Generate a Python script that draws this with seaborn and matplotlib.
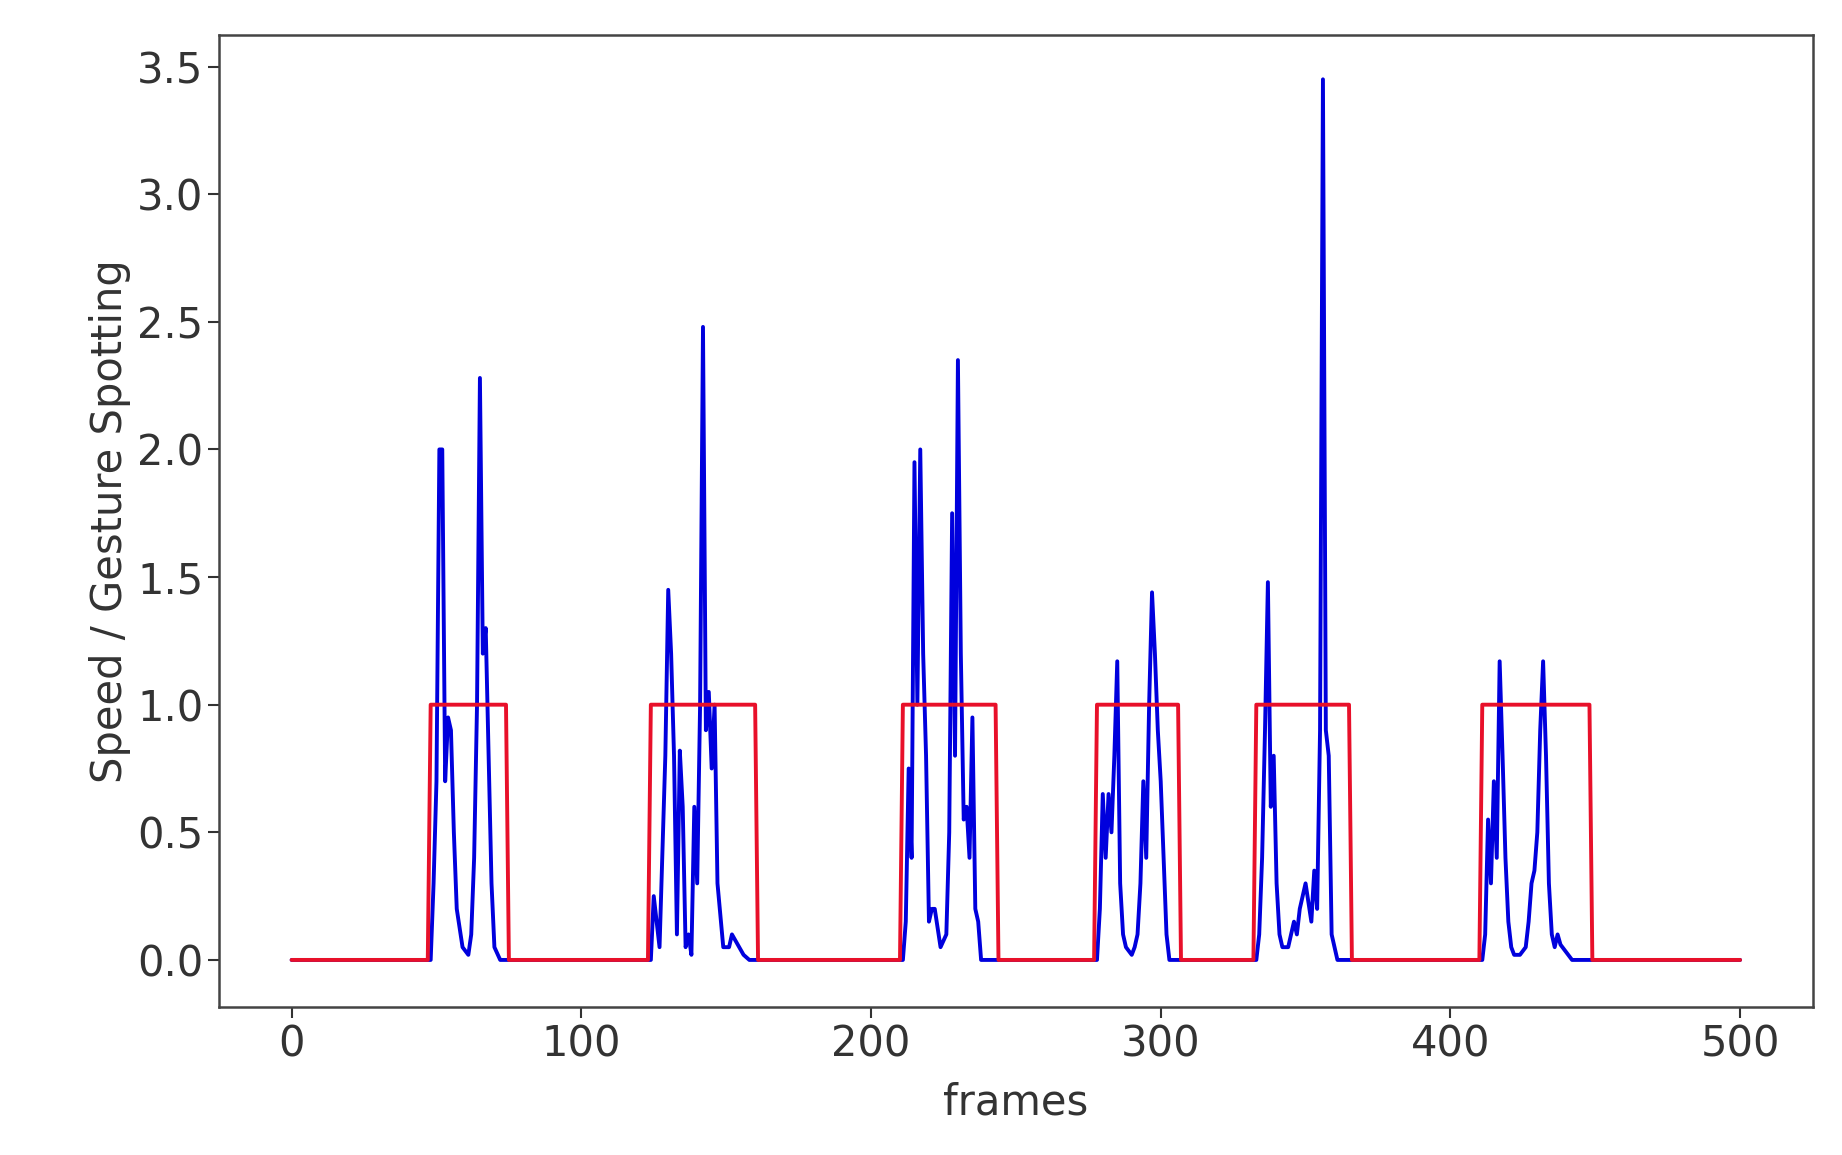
import matplotlib
matplotlib.use("Agg")
import matplotlib.pyplot as plt
import seaborn as sns
import pandas as pd

# Gesture spotting (square wave): frame, value
spot_frames = [0, 47, 48, 74, 75, 123, 124, 160, 161, 210, 211, 243, 244, 277, 278, 306,
               307, 332, 333, 365, 366, 410, 411, 448, 449, 500]
spot_values = [0, 0, 1, 1, 0, 0, 1, 1, 0, 0, 1, 1, 0, 0, 1, 1,
               0, 0, 1, 1, 0, 0, 1, 1, 0, 0]

# Speed: frame, value (key points)
speed_frames = [0, 48, 49, 50, 51, 52, 53, 54, 55, 56, 57, 59, 61, 62, 63, 64, 65, 66, 67, 68, 69, 70, 72,
                124, 125, 127, 129, 130, 131, 132, 133, 134, 135, 136, 137, 138, 139, 140, 141, 142, 143, 144,
                145, 146, 147, 149, 151, 152, 154, 156, 158,
                211, 212, 213, 214, 215, 216, 217, 218, 219, 220, 221, 222, 224, 226, 227, 228, 229, 230, 231,
                232, 233, 234, 235, 236, 237, 238,
                278, 279, 280, 281, 282, 283, 284, 285, 286, 287, 288, 290, 291, 292, 293, 294, 295, 296, 297,
                298, 299, 300, 301, 302, 303,
                333, 334, 335, 336, 337, 338, 339, 340, 341, 342, 344, 346, 347, 348, 350, 352, 353, 354, 355,
                356, 357, 358, 359, 360, 361,
                411, 412, 413, 414, 415, 416, 417, 418, 419, 420, 421, 422, 424, 426, 427, 428, 429, 430, 431,
                432, 433, 434, 435, 436, 437, 438, 440, 442, 444, 500]
speed_values = [0, 0, 0.3, 0.7, 2.0, 2.0, 0.7, 0.95, 0.9, 0.5, 0.2, 0.05, 0.02, 0.1, 0.4, 1.0, 2.28, 1.2, 1.3, 0.8, 0.3, 0.05, 0,
                0, 0.25, 0.05, 0.8, 1.45, 1.2, 0.8, 0.1, 0.82, 0.6, 0.05, 0.1, 0.02, 0.6, 0.3, 1.0, 2.48, 0.9, 1.05,
                0.75, 1.0, 0.3, 0.05, 0.05, 0.1, 0.06, 0.02, 0,
                0, 0.15, 0.75, 0.4, 1.95, 1.0, 2.0, 1.2, 0.8, 0.15, 0.2, 0.2, 0.05, 0.1, 0.5, 1.75, 0.8, 2.35, 1.2,
                0.55, 0.6, 0.4, 0.95, 0.2, 0.15, 0,
                0, 0.2, 0.65, 0.4, 0.65, 0.5, 0.8, 1.17, 0.3, 0.1, 0.05, 0.02, 0.05, 0.1, 0.3, 0.7, 0.4, 1.0, 1.44,
                1.2, 0.9, 0.7, 0.4, 0.1, 0,
                0, 0.1, 0.4, 0.9, 1.48, 0.6, 0.8, 0.3, 0.1, 0.05, 0.05, 0.15, 0.1, 0.2, 0.3, 0.15, 0.35, 0.2, 0.9,
                3.45, 0.9, 0.8, 0.1, 0.05, 0,
                0, 0.1, 0.55, 0.3, 0.7, 0.4, 1.17, 0.8, 0.4, 0.15, 0.05, 0.02, 0.02, 0.05, 0.15, 0.3, 0.35, 0.5, 0.9,
                1.17, 0.8, 0.3, 0.1, 0.05, 0.1, 0.06, 0.03, 0, 0, 0]

speed_df = pd.DataFrame({"frames": speed_frames, "value": speed_values})
spot_df = pd.DataFrame({"frames": spot_frames, "value": spot_values})

sns.set_theme(style="white")
plt.rcParams["font.family"] = ["DejaVu Sans"]

fig = plt.figure(figsize=(18.42, 11.55), dpi=100)
ax = fig.add_axes([0.119, 0.128, 0.865, 0.842])

sns.lineplot(data=speed_df, x="frames", y="value", ax=ax, color="#0000dd", linewidth=2.8, estimator=None, sort=False)
sns.lineplot(data=spot_df, x="frames", y="value", ax=ax, color="#e8102a", linewidth=2.8, estimator=None, sort=False)

ax.set_xlim(-25, 525)
ax.set_ylim(-0.185, 3.625)
ax.set_xticks([0, 100, 200, 300, 400, 500])
ax.set_yticks([0.0, 0.5, 1.0, 1.5, 2.0, 2.5, 3.0, 3.5])
ax.set_yticklabels(["0.0", "0.5", "1.0", "1.5", "2.0", "2.5", "3.0", "3.5"])
ax.tick_params(axis="both", labelsize=30, length=8, width=1.5, colors="#333333", left=True, bottom=True)
ax.set_xlabel("frames", fontsize=30, color="#333333", labelpad=12)
ax.set_ylabel("Speed / Gesture Spotting", fontsize=30, color="#333333")
for s in ax.spines.values():
    s.set_color("#444444")
    s.set_linewidth(1.8)

fig.savefig("out.png", dpi=100)
